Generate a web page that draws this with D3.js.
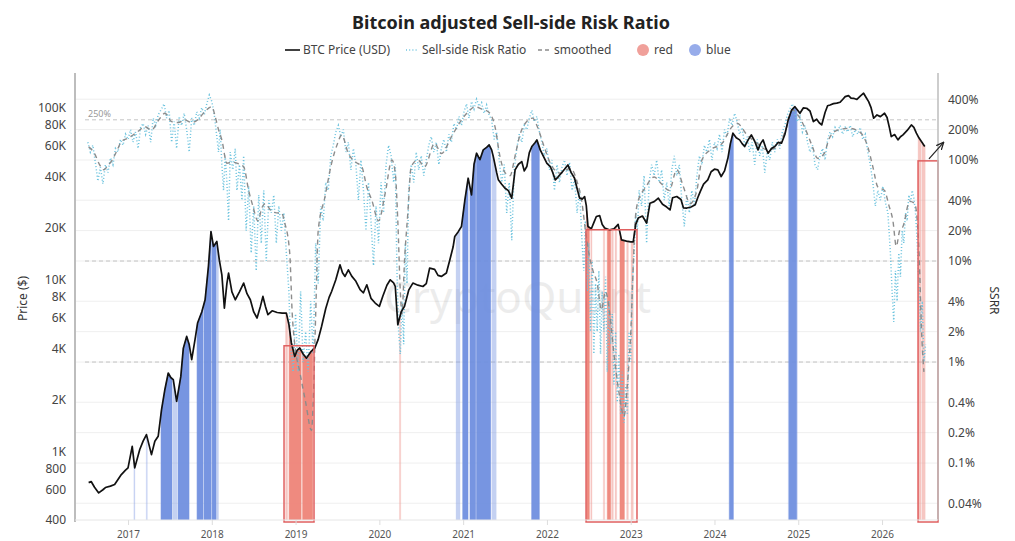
<!DOCTYPE html>
<html>
<head>
<meta charset="utf-8">
<script src="https://cdn.jsdelivr.net/npm/d3@7"></script>
<style>
  body { margin: 0; background: #fff; }
  text { font-family: "Noto Sans", "Open Sans", sans-serif; }
</style>
</head>
<body>
<script>
// data (t = decimal year)

var priceData = [
  [2016.53,660],[2016.56,670],[2016.60,620],[2016.65,575],[2016.70,600],[2016.73,618],[2016.79,630],[2016.84,643],
  [2016.92,735],[2016.97,780],[2017.00,804],[2017.05,1074],[2017.08,804],[2017.14,1028],[2017.18,1150],[2017.22,1256],
  [2017.28,961],[2017.32,1150],[2017.36,1228],[2017.40,1754],[2017.44,2300],[2017.48,2866],[2017.51,2700],[2017.54,2622],
  [2017.58,1963],[2017.63,2739],[2017.66,4000],[2017.70,4680],[2017.73,4200],[2017.76,3427],[2017.80,4500],[2017.83,5600],
  [2017.88,6500],[2017.92,7650],[2017.96,12000],[2017.99,19090],[2018.02,15630],[2018.06,16700],[2018.09,13000],[2018.12,10690],
  [2018.15,6840],[2018.18,9500],[2018.20,10940],[2018.24,8500],[2018.28,7650],[2018.33,8500],[2018.38,9570],[2018.42,8300],
  [2018.46,7650],[2018.50,6500],[2018.54,5990],[2018.58,7000],[2018.61,8000],[2018.64,7000],[2018.67,6260],[2018.72,6600],
  [2018.78,6450],[2018.84,6400],[2018.89,6400],[2018.92,5500],[2018.95,4290],[2018.99,3580],[2019.02,3900],[2019.05,4010],
  [2019.09,3700],[2019.13,3500],[2019.18,3800],[2019.23,4010],[2019.27,4500],[2019.31,5350],[2019.36,6800],[2019.40,7900],
  [2019.43,8550],[2019.48,10000],[2019.53,12220],[2019.56,11000],[2019.59,10460],[2019.63,11430],[2019.67,10500],[2019.72,9800],
  [2019.77,8750],[2019.81,8400],[2019.85,9350],[2019.90,7800],[2019.95,7320],[2020.00,7000],[2020.04,8000],[2020.09,9300],
  [2020.13,10000],[2020.17,9600],[2020.19,9140],[2020.22,5470],[2020.26,6500],[2020.30,7000],[2020.35,8700],[2020.40,9570],
  [2020.46,9300],[2020.52,9140],[2020.56,9500],[2020.60,11700],[2020.66,11500],[2020.70,10600],[2020.74,10460],[2020.80,10940],
  [2020.84,13000],[2020.88,15500],[2020.90,17860],[2020.94,19000],[2020.98,20400],[2021.02,29000],[2021.06,38990],[2021.10,31200],
  [2021.13,47000],[2021.16,54500],[2021.20,50000],[2021.24,57000],[2021.28,59000],[2021.31,61000],[2021.34,57000],[2021.36,52100],
  [2021.40,42000],[2021.42,38150],[2021.46,36000],[2021.50,34100],[2021.54,33000],[2021.58,29850],[2021.62,43600],[2021.66,47000],
  [2021.70,48700],[2021.73,43000],[2021.76,45600],[2021.79,55000],[2021.82,59600],[2021.86,63000],[2021.88,65200],[2021.92,57000],
  [2021.96,52100],[2022.00,47500],[2022.04,45600],[2022.07,42000],[2022.10,38150],[2022.14,40000],[2022.17,41700],[2022.21,44000],
  [2022.25,46600],[2022.29,42000],[2022.33,39000],[2022.36,34000],[2022.39,29850],[2022.42,29500],[2022.45,30500],[2022.47,27000],
  [2022.49,20400],[2022.53,19800],[2022.56,21500],[2022.59,23350],[2022.63,23600],[2022.66,21000],[2022.69,20000],[2022.75,19500],
  [2022.80,19800],[2022.85,21000],[2022.87,19000],[2022.89,17080],[2022.95,16800],[2023.00,16600],[2023.03,16600],[2023.06,21000],
  [2023.09,22850],[2023.14,23500],[2023.19,21350],[2023.23,27900],[2023.28,28500],[2023.33,29850],[2023.38,27500],[2023.43,26500],
  [2023.47,25500],[2023.50,30000],[2023.55,30500],[2023.60,29300],[2023.63,26200],[2023.67,26150],[2023.72,26500],[2023.77,27300],
  [2023.80,30000],[2023.83,32600],[2023.87,36000],[2023.92,38150],[2023.96,42500],[2024.00,44000],[2024.04,43600],[2024.08,39900],
  [2024.12,43000],[2024.16,50900],[2024.19,62000],[2024.22,71300],[2024.26,67000],[2024.30,65200],[2024.33,62000],[2024.36,59600],
  [2024.40,65000],[2024.44,69700],[2024.48,64000],[2024.52,57000],[2024.55,62000],[2024.58,65200],[2024.61,59000],[2024.64,54500],
  [2024.68,58000],[2024.72,59600],[2024.76,63000],[2024.80,62300],[2024.84,70000],[2024.88,85200],[2024.92,97000],[2024.96,101700],
  [2025.00,96000],[2025.02,93100],[2025.06,100000],[2025.10,99600],[2025.14,96000],[2025.18,83300],[2025.22,86000],[2025.25,82000],
  [2025.28,79600],[2025.32,94000],[2025.35,103000],[2025.38,104100],[2025.42,106000],[2025.46,106600],[2025.50,108000],[2025.53,112000],
  [2025.56,116300],[2025.60,118000],[2025.63,114000],[2025.66,113800],[2025.70,112000],[2025.74,117000],[2025.78,121800],[2025.81,115000],
  [2025.84,108800],[2025.87,100000],[2025.90,87100],[2025.94,91000],[2025.98,89000],[2026.03,93100],[2026.06,88000],[2026.09,76000],
  [2026.11,68100],[2026.15,70000],[2026.19,65200],[2026.22,68000],[2026.25,69700],[2026.30,74000],[2026.35,79600],[2026.38,77000],
  [2026.41,71300],[2026.44,67000],[2026.47,63800],[2026.51,59600]
];

var ssrrData = [
  [2016.52,1.5],[2016.55,1.2],[2016.58,1.4],[2016.61,0.95],[2016.64,0.62],[2016.67,0.85],[2016.70,0.58],[2016.73,0.9],
  [2016.76,0.75],[2016.79,1.05],[2016.82,0.9],[2016.85,1.3],[2016.88,1.2],[2016.91,1.6],[2016.94,1.4],[2016.97,1.8],
  [2017.00,1.6],[2017.03,2.0],[2017.06,1.5],[2017.09,1.9],[2017.12,1.3],[2017.15,2.1],[2017.18,2.3],[2017.21,1.8],
  [2017.24,2.2],[2017.27,1.5],[2017.30,2.6],[2017.33,2.2],[2017.36,2.8],[2017.40,3.2],[2017.43,3.6],[2017.46,2.6],
  [2017.49,3.1],[2017.52,1.5],[2017.55,2.4],[2017.58,1.3],[2017.61,2.7],[2017.64,2.2],[2017.67,2.9],[2017.70,2.0],
  [2017.73,1.2],[2017.76,2.6],[2017.79,2.2],[2017.82,3.0],[2017.85,2.6],[2017.88,3.3],[2017.91,2.8],[2017.94,3.6],
  [2017.97,4.4],[2018.00,3.8],[2018.03,2.8],[2018.06,1.7],[2018.08,1.2],[2018.10,2.0],[2018.12,0.9],[2018.14,0.5],
  [2018.16,1.1],[2018.18,0.6],[2018.20,0.25],[2018.22,1.2],[2018.25,0.8],[2018.28,1.3],[2018.30,0.5],[2018.33,0.9],
  [2018.36,0.4],[2018.38,1.1],[2018.41,0.2],[2018.44,0.55],[2018.47,0.12],[2018.50,0.35],[2018.53,0.08],[2018.56,0.45],
  [2018.59,0.15],[2018.62,0.5],[2018.65,0.1],[2018.68,0.4],[2018.71,0.3],[2018.74,0.45],[2018.77,0.15],[2018.80,0.35],
  [2018.83,0.2],[2018.86,0.3],[2018.89,0.12],[2018.92,0.05],[2018.94,0.015],[2018.97,0.008],[2019.00,0.03],[2019.03,0.008],
  [2019.06,0.05],[2019.09,0.01],[2019.12,0.02],[2019.15,0.008],[2019.18,0.04],[2019.21,0.012],[2019.24,0.15],[2019.27,0.06],
  [2019.30,0.35],[2019.33,0.25],[2019.36,0.6],[2019.39,0.5],[2019.42,1.1],[2019.45,1.4],[2019.48,1.9],[2019.51,2.2],
  [2019.54,1.7],[2019.57,2.0],[2019.60,1.2],[2019.63,1.5],[2019.66,0.8],[2019.69,1.3],[2019.72,0.9],[2019.75,0.4],
  [2019.78,1.0],[2019.81,0.5],[2019.84,0.2],[2019.87,0.6],[2019.90,0.25],[2019.93,0.09],[2019.96,0.35],[2019.99,0.15],
  [2020.02,0.6],[2020.05,0.3],[2020.08,0.9],[2020.11,1.4],[2020.14,1.1],[2020.17,0.6],[2020.19,0.9],[2020.21,0.08],
  [2020.23,0.02],[2020.25,0.012],[2020.27,0.04],[2020.29,0.015],[2020.31,0.15],[2020.33,0.06],[2020.35,0.5],[2020.38,0.9],
  [2020.41,0.6],[2020.44,1.2],[2020.47,0.8],[2020.50,1.1],[2020.53,0.7],[2020.56,1.0],[2020.59,1.4],[2020.62,1.7],
  [2020.65,1.2],[2020.68,1.5],[2020.71,0.9],[2020.74,1.3],[2020.77,1.6],[2020.80,1.2],[2020.83,1.8],[2020.86,1.5],
  [2020.89,2.3],[2020.92,2.0],[2020.95,2.7],[2020.98,2.2],[2021.01,3.0],[2021.04,3.6],[2021.07,2.6],[2021.10,3.8],
  [2021.13,3.2],[2021.16,4.0],[2021.19,3.4],[2021.22,3.7],[2021.25,2.9],[2021.28,3.5],[2021.31,2.8],[2021.34,2.5],
  [2021.37,1.6],[2021.40,1.9],[2021.43,1.0],[2021.46,0.6],[2021.49,0.9],[2021.52,0.3],[2021.55,0.6],[2021.58,0.16],
  [2021.61,0.8],[2021.64,1.3],[2021.67,1.8],[2021.70,1.5],[2021.73,2.2],[2021.76,2.0],[2021.79,2.6],[2021.82,3.1],
  [2021.85,2.4],[2021.88,2.7],[2021.91,1.9],[2021.94,1.5],[2021.97,1.1],[2022.00,1.3],[2022.03,0.8],[2022.06,1.0],
  [2022.09,0.5],[2022.12,0.9],[2022.15,0.6],[2022.18,0.85],[2022.21,1.0],[2022.24,0.7],[2022.27,0.95],[2022.30,0.5],
  [2022.33,0.65],[2022.36,0.3],[2022.39,0.5],[2022.42,0.15],[2022.44,0.08],[2022.46,0.25],[2022.48,0.05],[2022.50,0.15],
  [2022.52,0.02],[2022.54,0.1],[2022.56,0.012],[2022.58,0.06],[2022.60,0.02],[2022.62,0.08],[2022.64,0.012],[2022.66,0.05],
  [2022.68,0.02],[2022.70,0.07],[2022.72,0.008],[2022.74,0.04],[2022.76,0.015],[2022.78,0.03],[2022.80,0.006],[2022.82,0.02],
  [2022.84,0.004],[2022.86,0.012],[2022.88,0.003],[2022.90,0.008],[2022.92,0.0025],[2022.94,0.006],[2022.96,0.003],[2022.98,0.02],
  [2023.00,0.01],[2023.02,0.06],[2023.04,0.12],[2023.06,0.3],[2023.08,0.2],[2023.10,0.5],[2023.13,0.35],[2023.16,0.7],
  [2023.19,0.15],[2023.22,0.6],[2023.25,0.9],[2023.28,0.7],[2023.31,1.0],[2023.34,0.6],[2023.37,0.8],[2023.40,0.4],
  [2023.43,0.6],[2023.46,0.35],[2023.49,0.8],[2023.52,1.1],[2023.55,0.7],[2023.58,0.9],[2023.61,0.4],[2023.64,0.22],
  [2023.67,0.45],[2023.70,0.3],[2023.73,0.5],[2023.76,0.35],[2023.79,0.7],[2023.82,1.1],[2023.85,0.9],[2023.88,1.4],
  [2023.91,1.2],[2023.94,1.6],[2023.97,1.0],[2024.00,1.5],[2024.03,1.3],[2024.06,1.8],[2024.09,1.2],[2024.12,2.0],
  [2024.15,1.7],[2024.18,2.6],[2024.21,2.2],[2024.24,2.9],[2024.27,2.4],[2024.30,1.8],[2024.33,2.1],[2024.36,1.4],
  [2024.39,1.7],[2024.42,1.2],[2024.45,1.5],[2024.48,0.9],[2024.51,1.6],[2024.54,1.1],[2024.57,1.4],[2024.60,0.75],
  [2024.63,1.2],[2024.66,1.0],[2024.69,1.5],[2024.72,1.2],[2024.75,1.6],[2024.78,1.3],[2024.81,1.9],[2024.84,2.2],
  [2024.87,2.8],[2024.90,3.2],[2024.93,3.6],[2024.96,2.9],[2024.99,2.4],[2025.02,2.7],[2025.05,1.9],[2025.08,2.2],
  [2025.11,1.5],[2025.14,1.2],[2025.17,1.4],[2025.20,0.9],[2025.23,0.8],[2025.26,1.1],[2025.29,1.3],[2025.32,1.0],
  [2025.35,1.6],[2025.38,1.9],[2025.41,1.7],[2025.44,2.1],[2025.47,1.9],[2025.50,2.2],[2025.53,1.8],[2025.56,2.1],
  [2025.59,1.9],[2025.62,2.2],[2025.65,1.7],[2025.68,2.0],[2025.71,1.8],[2025.74,2.1],[2025.77,1.6],[2025.80,1.8],
  [2025.83,1.2],[2025.86,0.9],[2025.89,0.6],[2025.92,0.35],[2025.95,0.5],[2025.98,0.4],[2026.01,0.55],[2026.04,0.38],
  [2026.07,0.3],[2026.10,0.12],[2026.12,0.05],[2026.14,0.025],[2026.16,0.08],[2026.18,0.04],[2026.20,0.12],[2026.22,0.07],
  [2026.24,0.2],[2026.26,0.15],[2026.28,0.3],[2026.30,0.25],[2026.32,0.45],[2026.34,0.38],[2026.36,0.5],[2026.38,0.42],
  [2026.40,0.3],[2026.42,0.15],[2026.44,0.06],[2026.46,0.02],[2026.48,0.04],[2026.50,0.01],[2026.52,0.015]
];

var smoothedData = [
  [2016.53,1.35],[2016.60,1.16],[2016.66,0.90],[2016.71,0.80],[2016.76,0.88],[2016.81,1.00],[2016.87,1.25],[2016.92,1.52],
  [2017.00,1.65],[2017.06,1.77],[2017.13,1.95],[2017.20,2.14],[2017.28,1.98],[2017.36,2.45],[2017.44,2.90],[2017.52,2.40],
  [2017.60,2.35],[2017.68,2.49],[2017.76,2.35],[2017.83,2.50],[2017.90,2.90],[2018.00,3.37],[2018.04,2.70],[2018.08,2.00],
  [2018.12,1.58],[2018.18,0.93],[2018.25,0.95],[2018.30,0.93],[2018.38,0.86],[2018.44,0.50],[2018.49,0.35],[2018.55,0.25],
  [2018.60,0.34],[2018.64,0.37],[2018.70,0.32],[2018.77,0.30],[2018.83,0.30],[2018.87,0.24],[2018.93,0.12],[2018.96,0.03],
  [2018.99,0.015],[2019.05,0.008],[2019.12,0.004],[2019.19,0.0021],[2019.21,0.004],[2019.24,0.03],[2019.27,0.20],[2019.35,0.43],
  [2019.43,0.93],[2019.50,1.45],[2019.55,1.77],[2019.63,1.16],[2019.72,0.95],[2019.79,0.86],[2019.85,0.54],[2019.91,0.40],
  [2019.99,0.25],[2020.07,0.47],[2020.15,1.00],[2020.19,0.74],[2020.22,0.25],[2020.25,0.05],[2020.27,0.03],[2020.30,0.10],
  [2020.34,0.30],[2020.38,0.86],[2020.46,1.00],[2020.54,0.86],[2020.66,1.46],[2020.74,1.16],[2020.86,1.70],[2020.98,2.49],
  [2021.06,3.0],[2021.14,3.37],[2021.22,3.2],[2021.30,3.01],[2021.38,2.14],[2021.44,1.08],[2021.50,0.75],[2021.56,0.70],
  [2021.62,1.1],[2021.68,1.8],[2021.74,2.3],[2021.83,2.6],[2021.88,2.2],[2021.96,1.41],[2022.04,0.93],[2022.16,0.74],
  [2022.28,0.83],[2022.36,0.61],[2022.42,0.37],[2022.46,0.20],[2022.50,0.12],[2022.55,0.08],[2022.60,0.06],[2022.65,0.033],
  [2022.70,0.05],[2022.75,0.03],[2022.80,0.012],[2022.86,0.005],[2022.92,0.0029],[2022.96,0.006],[2023.00,0.019],[2023.03,0.088],
  [2023.05,0.22],[2023.08,0.37],[2023.18,0.54],[2023.28,0.68],[2023.36,0.59],[2023.46,0.50],[2023.55,0.80],[2023.63,0.54],
  [2023.71,0.37],[2023.79,0.50],[2023.85,1.00],[2023.95,1.26],[2024.09,1.46],[2024.21,2.14],[2024.27,2.31],[2024.39,1.77],
  [2024.51,1.46],[2024.63,1.26],[2024.75,1.35],[2024.85,1.98],[2024.93,3.12],[2025.01,2.68],[2025.09,1.98],[2025.17,1.35],
  [2025.23,1.04],[2025.31,1.16],[2025.37,1.64],[2025.47,1.98],[2025.61,2.06],[2025.73,1.91],[2025.83,1.35],[2025.89,0.86],
  [2025.95,0.54],[2026.03,0.50],[2026.08,0.36],[2026.13,0.25],[2026.17,0.14],[2026.21,0.20],[2026.25,0.22],[2026.33,0.39],
  [2026.39,0.37],[2026.43,0.19],[2026.45,0.076],[2026.47,0.022],[2026.50,0.008]
];

// signal periods [start, end]
var blueBands = [
  [2017.394,2017.525],[2017.597,2017.728],[2017.824,2017.895],[2017.907,2017.991],[2018.003,2018.050],
  [2020.995,2021.058],[2021.082,2021.150],[2021.160,2021.329],[2021.818,2021.909],
  [2024.177,2024.225],[2024.890,2024.980]
];
var blueFaint = [
  [2017.070,2017.082],[2017.218,2017.230],[2017.537,2017.585],[2018.056,2018.080],
  [2020.915,2020.963],[2021.345,2021.395],[2024.881,2024.890],[2024.980,2024.989]
];
var redBands = [
  [2018.923,2019.066],[2019.084,2019.205],
  [2022.475,2022.506],[2022.721,2022.761],[2022.872,2022.924]
];
var redFaint = [
  [2018.880,2018.905],[2020.240,2020.255],[2022.523,2022.538],[2022.673,2022.690],[2022.773,2022.793],
  [2022.813,2022.833],[2022.952,2022.972],[2023.004,2023.031],
  [2026.430,2026.466],[2026.476,2026.515]
];

// highlight boxes [start, end, top price]
var redBoxes = [
  [2018.862,2019.220,4130],
  [2022.467,2023.075,19550],
  [2026.430,2026.668,49200]
];

var arrowFrom = [2026.56,50500], arrowTo = [2026.73,62600];

var priceTicks = [400,600,800,1000,2000,4000,6000,8000,10000,20000,40000,60000,80000,100000];
var ssrrTicks = [0.0004,0.001,0.002,0.004,0.01,0.02,0.04,0.1,0.2,0.4,1,2,4];
var refLines = [[2.5,"250%"],[0.1,""],[0.01,""]];
var yearTicks = [2017,2018,2019,2020,2021,2022,2023,2024,2025,2026];

// svg set up
var margin = {top: 73, right: 77, bottom: 21, left: 75},
  width = 1015 - margin.left - margin.right,
  height = 541 - margin.top - margin.bottom;

var root = d3.select("body").append("svg")
  .attr("width", 1015)
  .attr("height", 541);

var svg = root.append("g")
  .attr("transform", "translate(" + margin.left + "," + margin.top + ")");

var x = d3.scaleLinear().domain([2016.367, 2026.668]).range([0, width]);
var yL = d3.scaleLog().domain([400, 159700]).range([height, 0]);
var yR = d3.scaleLog().domain([0.000273, 7.27]).range([height, 0]);

root.append("defs").append("clipPath").attr("id", "clip")
  .append("rect").attr("width", width).attr("height", height);
root.select("defs").append("marker")
  .attr("id", "arrow").attr("viewBox", "0 0 10 10").attr("refX", 8).attr("refY", 5)
  .attr("markerWidth", 7).attr("markerHeight", 7).attr("orient", "auto")
  .append("path").attr("d", "M0,1 L9,5 L0,9").attr("fill", "none").attr("stroke", "#222").attr("stroke-width", 1.5);

// gridlines
svg.append("g").selectAll("line").data(ssrrTicks).enter().append("line")
  .attr("x1", 0).attr("x2", width)
  .attr("y1", d => yR(d)).attr("y2", d => yR(d))
  .attr("stroke", "#efefef");

// reference lines
svg.append("g").selectAll("line").data(refLines).enter().append("line")
  .attr("x1", 10).attr("x2", width)
  .attr("y1", d => yR(d[0])).attr("y2", d => yR(d[0]))
  .attr("stroke", "#c4c4c4").attr("stroke-dasharray", "4,3");
svg.append("g").selectAll("text").data(refLines).enter().append("text")
  .attr("x", 13).attr("y", d => yR(d[0]) - 3)
  .attr("font-size", 9).attr("fill", "#999")
  .text(d => d[1]);

// watermark
svg.append("text")
  .attr("x", x(2021.65)).attr("y", 240)
  .attr("text-anchor", "middle")
  .attr("font-size", 44).attr("fill", "#000").attr("opacity", 0.07)
  .text("CryptoQuant");

var plot = svg.append("g").attr("clip-path", "url(#clip)");

// price interpolation (log space) for band tops
let priceAt = (t) => {
  var i = d3.bisector(d => d[0]).left(priceData, t);
  if (i <= 0) return priceData[0][1];
  if (i >= priceData.length) return priceData[priceData.length - 1][1];
  var a = priceData[i - 1], b = priceData[i];
  var f = (t - a[0]) / (b[0] - a[0]);
  return Math.exp(Math.log(a[1]) + f * (Math.log(b[1]) - Math.log(a[1])));
};

let bandPoints = (band) => {
  var pts = [[band[0], priceAt(band[0])]];
  priceData.forEach(d => { if (d[0] > band[0] && d[0] < band[1]) pts.push(d); });
  pts.push([band[1], priceAt(band[1])]);
  return pts;
};

var bandArea = d3.area()
  .x(d => x(d[0]))
  .y0(height)
  .y1(d => yL(d[1]));

let drawBands = (bands, color, op) => {
  plot.append("g").selectAll("path").data(bands).enter().append("path")
    .attr("d", d => bandArea(bandPoints(d)))
    .attr("fill", color).attr("opacity", op)
    .attr("stroke", color).attr("stroke-width", 0.6).attr("stroke-opacity", op);
};

drawBands(blueFaint, "#8ba4e6", 0.5);
drawBands(blueBands, "#7090e0", 0.95);
drawBands(redFaint, "#f09a92", 0.55);
drawBands(redBands, "#ef8479", 0.95);

// ssrr dotted
plot.append("path")
  .datum(ssrrData)
  .attr("d", d3.line().x(d => x(d[0])).y(d => yR(d[1])))
  .attr("fill", "none").attr("stroke", "#6cc3de")
  .attr("stroke-width", 1.5).attr("stroke-dasharray", "1,2.2");

// smoothed dashed
plot.append("path")
  .datum(smoothedData)
  .attr("d", d3.line().curve(d3.curveMonotoneX).x(d => x(d[0])).y(d => yR(d[1])))
  .attr("fill", "none").attr("stroke", "#8c8c8c")
  .attr("stroke-width", 1.4).attr("stroke-dasharray", "5,4");

// price line
plot.append("path")
  .datum(priceData)
  .attr("d", d3.line().x(d => x(d[0])).y(d => yL(d[1])))
  .attr("fill", "none").attr("stroke", "#111")
  .attr("stroke-width", 1.7).attr("stroke-linejoin", "round");

// red highlight boxes
svg.append("g").selectAll("rect").data(redBoxes).enter().append("rect")
  .attr("x", d => x(d[0])).attr("y", d => yL(d[2]))
  .attr("width", d => x(d[1]) - x(d[0]))
  .attr("height", d => height + 2 - yL(d[2]))
  .attr("fill", "none").attr("stroke", "#e06060").attr("stroke-width", 1.5);

// axes lines
svg.append("line").attr("x1", 0).attr("x2", 0).attr("y1", 0).attr("y2", height + 2)
  .attr("stroke", "#bdbdbd").attr("stroke-width", 2);
svg.append("line").attr("x1", width).attr("x2", width).attr("y1", 0).attr("y2", height)
  .attr("stroke", "#bdbdbd").attr("stroke-width", 1.5);
svg.append("line").attr("x1", 0).attr("x2", width).attr("y1", height).attr("y2", height)
  .attr("stroke", "#e6e6e6");

// left axis
var axL = svg.append("g")
  .call(d3.axisLeft(yL).tickValues(priceTicks).tickSize(0).tickPadding(9)
    .tickFormat(d => d >= 1000 ? (d / 1000) + "K" : d));
axL.select(".domain").remove();
axL.selectAll("text").attr("font-size", 12).attr("fill", "#444");

// right axis
var axR = svg.append("g")
  .attr("transform", "translate(" + width + ",0)")
  .call(d3.axisRight(yR).tickValues(ssrrTicks).tickSize(0).tickPadding(10)
    .tickFormat(d => +(d * 100).toPrecision(2) + "%"));
axR.select(".domain").remove();
axR.selectAll("text").attr("font-size", 12).attr("fill", "#444");

// x axis
var axX = svg.append("g")
  .attr("transform", "translate(0," + height + ")")
  .call(d3.axisBottom(x).tickValues(yearTicks).tickSize(5).tickPadding(6).tickFormat(d3.format("d")));
axX.select(".domain").remove();
axX.selectAll("line").attr("stroke", "#ddd");
axX.selectAll("text").attr("font-size", 10).attr("fill", "#555");

// axis titles
svg.append("text")
  .attr("transform", "translate(" + (-48) + "," + (height / 2 + 2) + ") rotate(-90)")
  .attr("text-anchor", "middle").attr("font-size", 12).attr("fill", "#333")
  .text("Price ($)");
svg.append("text")
  .attr("transform", "translate(" + (width + 52) + "," + (height / 2 + 4) + ") rotate(90)")
  .attr("text-anchor", "middle").attr("font-size", 12).attr("fill", "#333")
  .text("SSRR");

// arrow annotation
svg.append("line")
  .attr("x1", x(arrowFrom[0])).attr("y1", yL(arrowFrom[1]))
  .attr("x2", x(arrowTo[0])).attr("y2", yL(arrowTo[1]))
  .attr("stroke", "#222").attr("stroke-width", 1.2)
  .attr("marker-end", "url(#arrow)");

// title
root.append("text")
  .attr("x", 511).attr("y", 29)
  .attr("text-anchor", "middle")
  .attr("font-size", 18).attr("font-weight", "bold").attr("fill", "#222")
  .text("Bitcoin adjusted Sell-side Risk Ratio");

// legend
var lg = root.append("g").attr("transform", "translate(0,50)");
lg.append("line").attr("x1", 285).attr("x2", 300).attr("stroke", "#111").attr("stroke-width", 1.6);
lg.append("text").attr("x", 303).attr("y", 4).attr("font-size", 12).attr("fill", "#444").text("BTC Price (USD)");
lg.append("line").attr("x1", 406).attr("x2", 418).attr("stroke", "#6cc3de").attr("stroke-width", 1.4).attr("stroke-dasharray", "1,2.2");
lg.append("text").attr("x", 422).attr("y", 4).attr("font-size", 12).attr("fill", "#444").text("Sell-side Risk Ratio");
lg.append("line").attr("x1", 538).attr("x2", 551).attr("stroke", "#8c8c8c").attr("stroke-width", 1.3).attr("stroke-dasharray", "4,3");
lg.append("text").attr("x", 554).attr("y", 4).attr("font-size", 12).attr("fill", "#444").text("smoothed");
lg.append("circle").attr("cx", 643).attr("cy", 0).attr("r", 6).attr("fill", "#f0a09a");
lg.append("text").attr("x", 654).attr("y", 4).attr("font-size", 12).attr("fill", "#444").text("red");
lg.append("circle").attr("cx", 695).attr("cy", 0).attr("r", 6).attr("fill", "#97acea");
lg.append("text").attr("x", 706).attr("y", 4).attr("font-size", 12).attr("fill", "#444").text("blue");
</script>
</body>
</html>
